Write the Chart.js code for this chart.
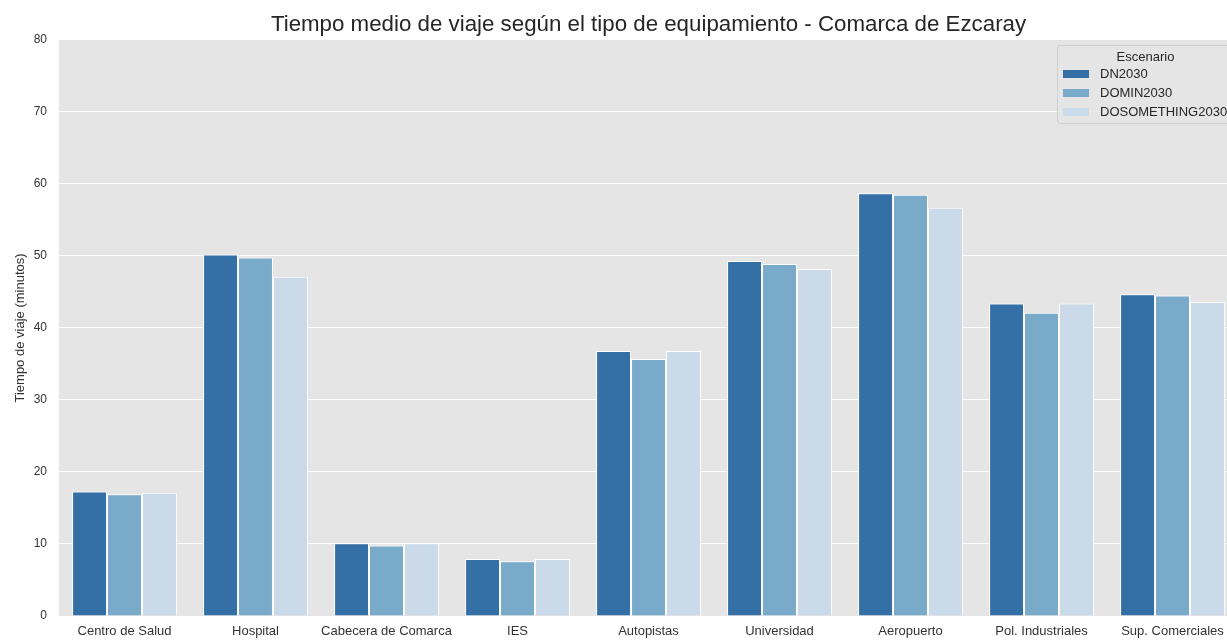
<!DOCTYPE html>
<html><head><meta charset="utf-8">
<script src="https://cdn.jsdelivr.net/npm/chart.js@4"></script>
<style>
html,body{margin:0;padding:0;overflow:hidden;background:#fff;width:1227px;height:640px;}
#wrap{position:absolute;left:0;top:0;width:1240px;height:640px;}
#legend{position:absolute;left:1057px;top:45px;width:177px;height:79px;box-sizing:border-box;border:1px solid #cfcfcf;border-radius:3px;background:rgba(229,229,229,0.85);font-family:"Liberation Sans",Arial,sans-serif;font-size:13px;color:#262626;}
#legend .t{position:absolute;left:0;width:175px;top:3px;text-align:center;}
#legend .i{position:absolute;left:5px;height:16px;line-height:16px;white-space:nowrap;}
#legend .s{display:inline-block;width:26px;height:8px;vertical-align:middle;margin-right:11px;margin-top:-2px;}
</style></head>
<body>
<div id="wrap"><canvas id="c" width="1240" height="640"></canvas>
<div id="legend"></div></div>
<script>
const categories = ["Centro de Salud","Hospital","Cabecera de Comarca","IES","Autopistas","Universidad","Aeropuerto","Pol. Industriales","Sup. Comerciales"];
const seriesNames = ["DN2030","DOMIN2030","DOSOMETHING2030"];
const dn2030 = [17.3, 50.2, 10.1, 7.9, 36.8, 49.3, 58.7, 43.4, 44.7];
const domin2030 = [16.9, 49.8, 9.8, 7.6, 35.7, 48.9, 58.5, 42.1, 44.5];
const dosomething2030 = [17.1, 47.1, 10.1, 7.9, 36.8, 48.2, 56.7, 43.4, 43.6];
const yTicks = [0,10,20,30,40,50,60,70,80];
const colors = ["#3470a6","#7aaac9","#cadae9"];
const titleText = "Tiempo medio de viaje según el tipo de equipamiento - Comarca de Ezcaray";
const yLabel = "Tiempo de viaje (minutos)";
const legendTitle = "Escenario";

const FONT = '"Liberation Sans", Arial, sans-serif';
const bgPlugin = {
  id:'bg',
  beforeDraw(chart){
    const {ctx, chartArea:a} = chart;
    ctx.save(); ctx.fillStyle='#e5e5e5';
    ctx.fillRect(a.left,a.top,a.right-a.left,a.bottom-a.top); ctx.restore();
  }
};
const allSeries = [dn2030, domin2030, dosomething2030];
new Chart(document.getElementById('c'), {
  type:'bar',
  data:{labels:categories, datasets: seriesNames.map((n,i)=>({label:n,data:allSeries[i],backgroundColor:colors[i],borderColor:'#ffffff',borderWidth:1,categoryPercentage:0.8,barPercentage:1.0}))},
  options:{
    responsive:false, animation:false,
    layout:{padding:{left:0,right:2,top:0,bottom:0}},
    plugins:{
      legend:{display:false}, tooltip:{enabled:false},
      title:{display:true,text:titleText,fullSize:false,color:'#262626',font:{family:FONT,size:22.3,weight:'normal',lineHeight:1.2},padding:{top:11,bottom:2.2}}
    },
    scales:{
      x:{grid:{display:false,drawTicks:false},border:{display:false},
         ticks:{color:'#333333',font:{family:FONT,size:13},padding:8,maxRotation:0,autoSkip:false},
         afterFit(s){s.height=24;}},
      y:{min:0,max:80,afterBuildTicks(s){s.ticks=yTicks.map(v=>({value:v}));},
         grid:{color:'#ffffff',lineWidth:1,drawTicks:false},border:{display:false},
         ticks:{color:'#333333',font:{family:FONT,size:12},padding:12},
         title:{display:true,text:yLabel,color:'#333333',font:{family:FONT,size:13},padding:{top:13,bottom:0}},
         afterFit(s){s.width=59;}}
    }
  },
  plugins:[bgPlugin]
});
const lg = document.getElementById('legend');
let h = '<div class="t">'+legendTitle+'</div>';
seriesNames.forEach((n,i)=>{ h += '<div class="i" style="top:'+(20+i*19)+'px"><span class="s" style="background:'+colors[i]+'"></span>'+n+'</div>'; });
lg.innerHTML = h;
</script>
</body></html>
